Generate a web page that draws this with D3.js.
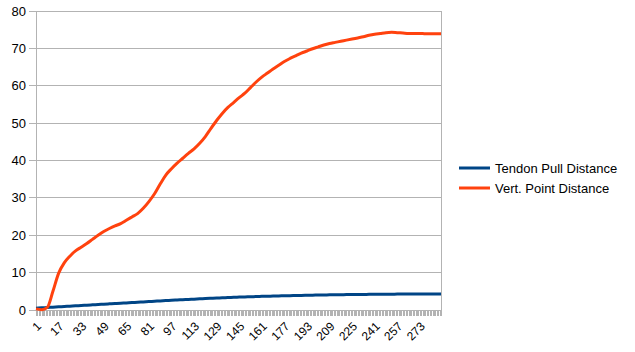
<!DOCTYPE html>
<html><head><meta charset="utf-8">
<script src="https://cdn.jsdelivr.net/npm/d3@7"></script>
<style>body{margin:0;background:#fff}svg{display:block}text{font-family:"Liberation Sans",Arial,sans-serif}</style>
</head><body><svg id="c" width="635" height="352"></svg>
<script>
const seriesNames = ["Tendon Pull Distance", "Vert. Point Distance"];
const seriesColors = ["#004586", "#ff420e"];
const categoryCount = 288;
const xTickLabels = [1,17,33,49,65,81,97,113,129,145,161,177,193,209,225,241,257,273];
const yTicks = [0,10,20,30,40,50,60,70,80];
const sampleCats = [1,5,9,13,17,21,25,29,33,37,41,45,49,53,57,61,65,69,73,77,81,85,89,93,97,101,105,109,113,117,121,125,129,133,137,141,145,149,153,157,161,165,169,173,177,181,185,189,193,197,201,205,209,213,217,221,225,229,233,237,241,245,249,253,257,261,265,269,273,277,281,285,288];
const tendonPull = [0.50,0.58,0.67,0.76,0.85,0.94,1.03,1.12,1.20,1.29,1.38,1.46,1.55,1.64,1.72,1.81,1.90,1.99,2.07,2.16,2.25,2.34,2.43,2.51,2.60,2.68,2.75,2.83,2.90,2.98,3.05,3.13,3.20,3.26,3.33,3.39,3.45,3.50,3.55,3.60,3.65,3.69,3.73,3.77,3.80,3.84,3.88,3.91,3.95,3.97,4.00,4.02,4.05,4.07,4.10,4.12,4.15,4.16,4.17,4.19,4.20,4.21,4.23,4.24,4.25,4.26,4.28,4.29,4.30,4.30,4.30,4.30,4.30];
const vertPoint = [0.3,0.1,0.7,5.0,9.8,12.6,14.4,15.8,16.8,17.8,18.9,20.0,21.0,21.8,22.5,23.1,24.0,24.9,25.8,27.2,29.0,31.1,33.7,36.1,37.8,39.3,40.6,41.9,43.1,44.6,46.4,48.6,50.7,52.6,54.2,55.5,56.8,58.0,59.5,61.0,62.3,63.4,64.5,65.5,66.5,67.3,68.0,68.7,69.3,69.9,70.4,70.9,71.3,71.6,71.9,72.2,72.5,72.8,73.1,73.5,73.8,74.0,74.2,74.3,74.2,74.1,74.0,74.0,74.0,73.9,73.9,73.9,73.9];

const svg = d3.select("#c");
const L = 36, R = 441, T = 11, B = 310;
const x = d3.scaleLinear().domain([1, categoryCount]).range([L, R]);
const y = d3.scaleLinear().domain([0, 80]).range([B, T]);

// gridlines + major ticks
svg.append("g").selectAll("line").data(yTicks).join("line")
  .attr("x1", L - 7).attr("x2", R).attr("y1", d => y(d)).attr("y2", d => y(d))
  .attr("stroke", "#b3b3b3").attr("stroke-width", 1).attr("shape-rendering", "crispEdges");
// left axis and right border
svg.append("line").attr("x1", L).attr("x2", L).attr("y1", T).attr("y2", B + 6)
  .attr("stroke", "#b3b3b3").attr("shape-rendering", "crispEdges");
svg.append("line").attr("x1", R).attr("x2", R).attr("y1", T).attr("y2", B + 6)
  .attr("stroke", "#b3b3b3").attr("shape-rendering", "crispEdges");
// category ticks
svg.append("g").selectAll("line").data(d3.range(1, categoryCount + 1)).join("line")
  .attr("x1", d => Math.round(x(d)) + 0.5).attr("x2", d => Math.round(x(d)) + 0.5)
  .attr("y1", B).attr("y2", B + 6).attr("stroke", "#b3b3b3").attr("stroke-width", 1);

// y labels
svg.append("g").selectAll("text").data(yTicks).join("text")
  .attr("x", 26).attr("y", d => y(d)).attr("dy", "0.35em").attr("text-anchor", "end")
  .attr("font-size", 13).attr("fill", "#000").text(d => d);
// x labels
svg.append("g").selectAll("text").data(xTickLabels).join("text")
  .attr("transform", d => `translate(${x(d) + 3},${B + 14}) rotate(-45)`)
  .attr("dy", "0.35em").attr("text-anchor", "end")
  .attr("font-size", 12).attr("fill", "#000").text(d => d);

const line = d3.line().x(d => x(d[0])).y(d => y(d[1])).curve(d3.curveMonotoneX);
[tendonPull, vertPoint].forEach((vals, i) => {
  svg.append("path").datum(sampleCats.map((c, j) => [c, vals[j]]))
    .attr("d", line).attr("fill", "none").attr("stroke", seriesColors[i])
    .attr("stroke-width", 3).attr("stroke-linejoin", "round");
});

// legend
const lg = svg.append("g");
seriesNames.forEach((n, i) => {
  const ly = 168 + i * 20;
  lg.append("line").attr("x1", 459).attr("x2", 490).attr("y1", ly).attr("y2", ly)
    .attr("stroke", seriesColors[i]).attr("stroke-width", 3);
  lg.append("text").attr("x", 495).attr("y", ly).attr("dy", "0.35em")
    .attr("font-size", 13).attr("fill", "#000").text(n);
});
</script></body></html>
